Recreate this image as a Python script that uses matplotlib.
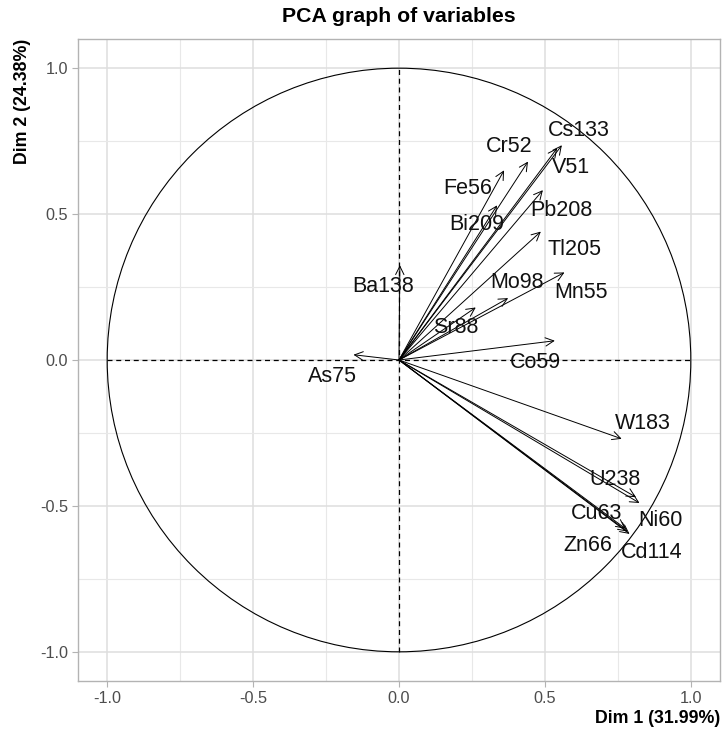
import matplotlib
matplotlib.use("Agg")
import matplotlib.pyplot as plt
from matplotlib.patches import Circle
from matplotlib.ticker import MultipleLocator

plt.rcParams['font.family'] = ['Liberation Sans', 'DejaVu Sans']

# Variable names and loadings (Dim 1, Dim 2)
variables = ["Cs133", "V51", "Cr52", "Fe56", "Bi209", "Pb208", "Tl205", "Mn55",
             "Mo98", "Sr88", "Co59", "Ba138", "As75", "W183", "U238", "Ni60",
             "Cu63", "Zn66", "Cd114"]
dim1 = [0.558, 0.542, 0.442, 0.360, 0.336, 0.493, 0.486, 0.567,
        0.374, 0.263, 0.534, 0.003, -0.156, 0.763, 0.812, 0.824,
        0.776, 0.783, 0.790]
dim2 = [0.736, 0.726, 0.680, 0.650, 0.530, 0.582, 0.440, 0.300,
        0.212, 0.180, 0.066, 0.325, 0.018, -0.270, -0.470, -0.490,
        -0.578, -0.588, -0.596]
# label anchor positions (data units, from the repelled labels)
label_x = [0.616, 0.589, 0.377, 0.236, 0.267, 0.555, 0.603, 0.623,
           0.404, 0.195, 0.466, -0.055, -0.229, 0.836, 0.740, 0.897,
           0.678, 0.647, 0.866]
label_y = [0.788, 0.658, 0.733, 0.588, 0.466, 0.514, 0.377, 0.233,
           0.267, 0.110, -0.007, 0.253, -0.058, -0.219, -0.408, -0.551,
           -0.527, -0.637, -0.661]

title = "PCA graph of variables"
xlabel = "Dim 1 (31.99%)"
ylabel = "Dim 2 (24.38%)"

fig = plt.figure(figsize=(7.22, 7.32), dpi=100)
ax = fig.add_axes([78/722, 51/732, 642/722, 642/732])

ax.set_xlim(-1.1, 1.1)
ax.set_ylim(-1.1, 1.1)
ax.xaxis.set_minor_locator(MultipleLocator(0.25))
ax.yaxis.set_minor_locator(MultipleLocator(0.25))
ax.grid(which='major', color='#DEDEDE', lw=1.1, zorder=0)
ax.grid(which='minor', color='#E8E8E8', lw=0.8, zorder=0)
ax.set_axisbelow(True)
for s in ax.spines.values():
    s.set_color('#B3B3B3')
    s.set_linewidth(1.0)
ax.tick_params(which='major', length=4, color='#B3B3B3', labelcolor='#4D4D4D',
               labelsize=11.7, pad=3)
ax.tick_params(which='minor', length=0)
ax.set_xticks([-1.0, -0.5, 0.0, 0.5, 1.0])
ax.set_xticklabels(["-1.0", "-0.5", "0.0", "0.5", "1.0"])
ax.set_yticks([-1.0, -0.5, 0.0, 0.5, 1.0])
ax.set_yticklabels(["-1.0", "-0.5", "0.0", "0.5", "1.0"])

# correlation circle and axes lines
ax.add_patch(Circle((0, 0), 1.0, fill=False, color='black', lw=0.8, zorder=2))
ax.plot([-1, 1], [0, 0], ls=(0, (4, 3)), color='black', lw=0.9, zorder=2)
ax.plot([0, 0], [-1, 1], ls=(0, (4, 3)), color='black', lw=0.9, zorder=2)

for name, x, y, lx, ly in zip(variables, dim1, dim2, label_x, label_y):
    ax.annotate("", xy=(x, y), xytext=(0, 0),
                arrowprops=dict(arrowstyle='->', color='black', lw=0.7,
                                shrinkA=0, shrinkB=0, mutation_scale=15),
                zorder=3)
    ax.text(lx, ly, name, ha='center', va='center', fontsize=15.5,
            color='#111111', zorder=4)

fig.suptitle(title, x=(78 + 720) / 2 / 722, y=1 - 17/732, va='center',
             fontsize=15.3, fontweight='bold')
ax.set_xlabel(xlabel, fontsize=12.8, fontweight='bold', loc='right', labelpad=3)
ax.set_ylabel(ylabel, fontsize=12.8, fontweight='bold', loc='top', labelpad=7)

fig.savefig("out.png", dpi=100)
